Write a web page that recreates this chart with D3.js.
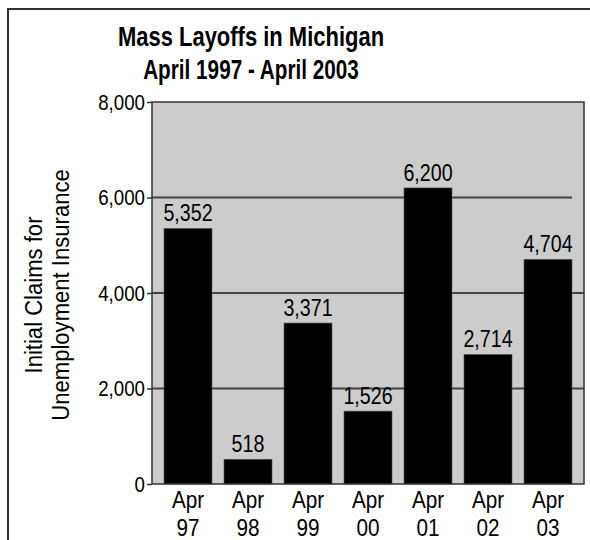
<!DOCTYPE html>
<html>
<head>
<meta charset="utf-8">
<script src="https://cdn.jsdelivr.net/npm/d3@7"></script>
<style>
body { margin: 0; background: #fff; }
text { font-family: "Liberation Sans", Arial, sans-serif; fill: #000; }
</style>
</head>
<body>
<script>
var months = ["Apr 97", "Apr 98", "Apr 99", "Apr 00", "Apr 01", "Apr 02", "Apr 03"];
var claims = [5352, 518, 3371, 1526, 6200, 2714, 4704];
var yTicks = [0, 2000, 4000, 6000, 8000];
var titleLines = ["Mass Layoffs in Michigan", "April 1997 - April 2003"];
var yTitleLines = ["Initial Claims for", "Unemployment Insurance"];

var width = 590, height = 540;
var svg = d3.select("body").append("svg")
  .attr("width", width)
  .attr("height", height);

// squeeze text horizontally, the original uses a condensed face
function condensed(px, py, sx) {
  return "translate(" + px + "," + py + ") scale(" + sx + ",1)";
}

// outer frame (only left and top show in the window)
svg.append("rect")
  .attr("x", 8).attr("y", 9)
  .attr("width", 600).attr("height", 560)
  .attr("fill", "none")
  .attr("stroke", "#333")
  .attr("stroke-width", 2);

var x = d3.scaleBand()
  .domain(months)
  .range([152, 584])
  .paddingInner(0.2)
  .paddingOuter(0.2);

var y = d3.scaleLinear()
  .domain([0, 8000])
  .range([484, 102]);

// plot background
svg.append("rect")
  .attr("x", 152).attr("y", y(8000))
  .attr("width", 584 - 152).attr("height", y(0) - y(8000))
  .attr("fill", "#cccccc");

// gridlines
svg.selectAll("line.grid")
  .data(yTicks.filter(function (d) { return d > 0 && d < 8000; }))
  .enter().append("line")
  .attr("class", "grid")
  .attr("x1", 152)
  .attr("x2", function (d) { return d == 6000 ? 572 : 584; }) // top line stops short in the original
  .attr("y1", function (d) { return y(d); })
  .attr("y2", function (d) { return y(d); })
  .attr("stroke", "#444")
  .attr("stroke-width", 2);

// bars
svg.selectAll("rect.bar")
  .data(claims)
  .enter().append("rect")
  .attr("class", "bar")
  .attr("x", function (d, i) { return x(months[i]); })
  .attr("y", function (d) { return y(d); })
  .attr("width", x.bandwidth())
  .attr("height", function (d) { return y(0) - y(d); })
  .attr("fill", "#000")
  .attr("stroke", "#555")
  .attr("stroke-width", 0.6);

// value labels
svg.selectAll("text.val")
  .data(claims)
  .enter().append("text")
  .attr("class", "val")
  .attr("transform", function (d, i) {
    return condensed(x(months[i]) + x.bandwidth() / 2, y(d) - 7, 0.82);
  })
  .attr("text-anchor", "middle")
  .style("font-size", "24px")
  .text(function (d) { return d3.format(",")(d); });

// plot border
svg.append("rect")
  .attr("x", 152).attr("y", y(8000))
  .attr("width", 584 - 152).attr("height", y(0) - y(8000))
  .attr("fill", "none")
  .attr("stroke", "#333")
  .attr("stroke-width", 1.5);

// y axis
var yAxis = svg.append("g")
  .attr("transform", "translate(152,0)")
  .call(d3.axisLeft(y).tickValues(yTicks).tickFormat(d3.format(",")).tickSize(5).tickPadding(2));
yAxis.select(".domain").remove();
yAxis.selectAll(".tick line").attr("stroke", "#333").attr("stroke-width", 1.5);
yAxis.selectAll(".tick text")
  .style("font-size", "22px")
  .attr("fill", "#000")
  .attr("transform", "translate(-7,0) scale(0.85,1)")
  .attr("x", 0);

// x axis labels (two lines)
var xl = svg.selectAll("g.xlab")
  .data(months)
  .enter().append("g")
  .attr("class", "xlab")
  .attr("transform", function (d) { return condensed(x(d) + x.bandwidth() / 2, 0, 0.9); });
xl.append("text")
  .attr("y", 508)
  .attr("text-anchor", "middle")
  .style("font-size", "23px")
  .text(function (d) { return d.split(" ")[0]; });
xl.append("text")
  .attr("y", 536)
  .attr("text-anchor", "middle")
  .style("font-size", "23px")
  .text(function (d) { return d.split(" ")[1]; });

// y title
svg.append("g")
  .attr("transform", "translate(42,295) rotate(-90)")
  .selectAll("text")
  .data(yTitleLines)
  .enter().append("text")
  .attr("transform", function (d, i) { return condensed(0, i * 27, 0.96); })
  .attr("text-anchor", "middle")
  .style("font-size", "23px")
  .text(function (d) { return d; });

// title
svg.selectAll("text.title")
  .data(titleLines)
  .enter().append("text")
  .attr("class", "title")
  .attr("transform", function (d, i) { return condensed(251, 46 + i * 33, i == 0 ? 0.785 : 0.74); })
  .attr("text-anchor", "middle")
  .style("font-size", "28px")
  .style("font-weight", "bold")
  .text(function (d) { return d; });
</script>
</body>
</html>
